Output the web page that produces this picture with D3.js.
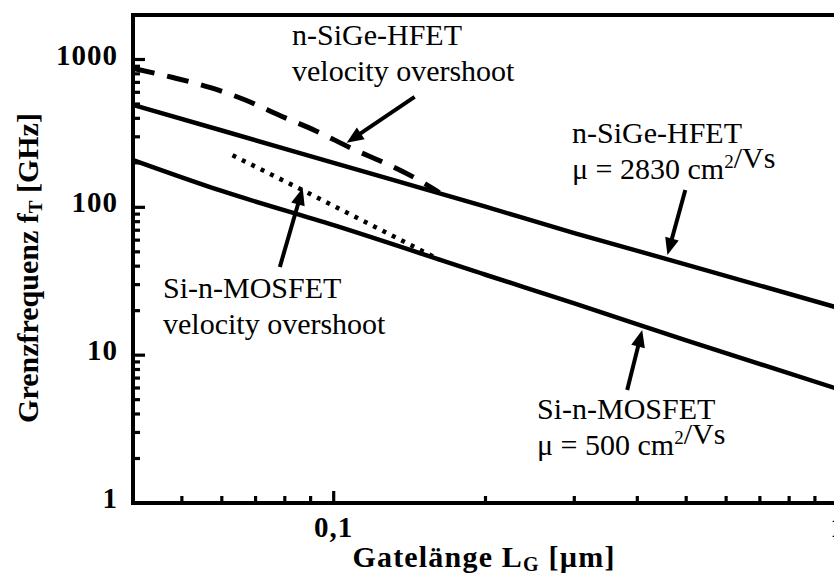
<!DOCTYPE html>
<html>
<head>
<meta charset="utf-8">
<script src="https://cdn.jsdelivr.net/npm/d3@7/dist/d3.min.js"></script>
<style>
  html, body { margin: 0; padding: 0; background: #fff; }
  svg { display: block; }
  text { font-family: "Liberation Serif", "Times New Roman", serif; fill: #000; }
</style>
</head>
<body>
<svg id="chart" width="834" height="575"></svg>
<script>
// Gate length L_G in µm, transit frequency f_T in GHz
const hfetL = [0.04, 0.06, 0.1, 0.2, 0.3, 0.5, 1];
const hfetF = [493, 331, 200, 101, 67, 41, 20.9];

const mosL = [0.04, 0.06, 0.1, 0.2, 0.3, 0.5, 1];
const mosF = [209, 129, 75.7, 35, 22.4, 12.6, 5.9];

const hfetOvL = [0.04, 0.048, 0.057, 0.067, 0.079, 0.092, 0.11, 0.127, 0.148, 0.162];
const hfetOvF = [870, 755, 645, 530, 412, 330, 245, 198, 152, 126];

const mosOvL = [0.063, 0.087, 0.162];
const mosOvF = [225, 130, 44.2];

const xTickLabels = [[0.1, "0,1"], [1, "1"]];
const yTickLabels = [[1, "1"], [10, "10"], [100, "100"], [1000, "1000"]];

// annotation arrows: [tailL, tailF, tipL, tipF]
const arrows = [
  [0.1447, 558, 0.1061, 273],
  [0.0782, 39.5, 0.0868, 135],
  [0.498, 131, 0.459, 47.6],
  [0.382, 5.81, 0.409, 14.8]
];

const svg = d3.select("#chart");
const mLeft = 133, mRight = 838, mTop = 15, mBottom = 503;

const x = d3.scaleLog().domain([0.04, 1]).range([mLeft, mRight]);
const y = d3.scaleLog().domain([1, 2000]).range([mBottom, mTop]);

const isMajor = v => Math.abs(Math.log10(v) - Math.round(Math.log10(v))) < 1e-9;

// frame
svg.append("rect")
  .attr("x", mLeft).attr("y", mTop)
  .attr("width", mRight - mLeft).attr("height", mBottom - mTop)
  .attr("fill", "none").attr("stroke", "#000").attr("stroke-width", 4);

// x ticks (inward)
const xt = x.ticks().filter(v => v > 0.04 && v < 1);
svg.append("g").selectAll("line").data(xt).join("line")
  .attr("x1", d => x(d)).attr("x2", d => x(d))
  .attr("y1", mBottom).attr("y2", d => mBottom - (isMajor(d) ? 12 : 7))
  .attr("stroke", "#000").attr("stroke-width", 3.2);

// y ticks (inward)
const yt = y.ticks().filter(v => v > 1 && v < 2000);
svg.append("g").selectAll("line").data(yt).join("line")
  .attr("y1", d => y(d)).attr("y2", d => y(d))
  .attr("x1", mLeft).attr("x2", d => mLeft + (isMajor(d) ? 12 : 7))
  .attr("stroke", "#000").attr("stroke-width", 3.2);

// tick labels
svg.append("g").selectAll("text").data(yTickLabels).join("text")
  .attr("x", 118).attr("y", d => y(d[0]) + 5)
  .attr("text-anchor", "end")
  .attr("font-size", 29).attr("font-weight", "bold")
  .attr("letter-spacing", 1)
  .text(d => d[1]);

svg.append("g").selectAll("text").data(xTickLabels).join("text")
  .attr("x", d => x(d[0])).attr("y", 537)
  .attr("text-anchor", "middle")
  .attr("font-size", 29).attr("font-weight", "bold")
  .attr("letter-spacing", 1)
  .text(d => d[1]);

// axis titles
const xTitle = svg.append("text")
  .attr("x", 484).attr("y", 567)
  .attr("text-anchor", "middle")
  .attr("font-size", 30).attr("font-weight", "bold")
  .attr("letter-spacing", 1.2);
xTitle.append("tspan").text("Gatelänge L");
xTitle.append("tspan").attr("font-size", 20).attr("dy", 4).text("G");
xTitle.append("tspan").attr("dy", -4).text(" [µm]");

const yTitle = svg.append("text")
  .attr("transform", "translate(38,268) rotate(-90)")
  .attr("text-anchor", "middle")
  .attr("font-size", 30).attr("font-weight", "bold");
yTitle.append("tspan").text("Grenzfrequenz f");
yTitle.append("tspan").attr("font-size", 19).attr("dy", 4).text("T");
yTitle.append("tspan").attr("dy", -4).text(" [GHz]");

// curves
const line = d3.line()
  .x(d => x(d[0])).y(d => y(d[1]))
  .curve(d3.curveMonotoneX);

const plot = svg.append("g");
plot.append("path").datum(d3.zip(hfetL, hfetF))
  .attr("d", line).attr("fill", "none")
  .attr("stroke", "#000").attr("stroke-width", 4.5);
plot.append("path").datum(d3.zip(mosL, mosF))
  .attr("d", line).attr("fill", "none")
  .attr("stroke", "#000").attr("stroke-width", 4.5);
plot.append("path").datum(d3.zip(hfetOvL, hfetOvF))
  .attr("d", line).attr("fill", "none")
  .attr("stroke", "#000").attr("stroke-width", 5)
  .attr("stroke-dasharray", "22 13");
plot.append("path").datum(d3.zip(mosOvL, mosOvF))
  .attr("d", line).attr("fill", "none")
  .attr("stroke", "#000").attr("stroke-width", 4.5)
  .attr("stroke-dasharray", "4 6.5");

// arrows
const ag = svg.append("g");
arrows.forEach(a => {
  const x0 = x(a[0]), y0 = y(a[1]), x1 = x(a[2]), y1 = y(a[3]);
  const dx = x1 - x0, dy = y1 - y0, len = Math.hypot(dx, dy);
  const ux = dx / len, uy = dy / len;
  const headLen = 17, headW = 7;
  const bx = x1 - ux * headLen, by = y1 - uy * headLen;
  ag.append("line")
    .attr("x1", x0).attr("y1", y0).attr("x2", bx + ux * 2).attr("y2", by + uy * 2)
    .attr("stroke", "#000").attr("stroke-width", 4);
  ag.append("path")
    .attr("d", `M${x1},${y1}L${bx - uy * headW},${by + ux * headW}L${bx + uy * headW},${by - ux * headW}Z`)
    .attr("fill", "#000");
});

// curve labels; a part given as {superscript: "..."} is raised
function label(px, py, lines) {
  const t = svg.append("text").attr("font-size", 30);
  lines.forEach((ln, i) => {
    const ts = t.append("tspan").attr("x", px).attr("y", py + i * 36);
    ln.forEach(part => {
      if (typeof part === "object") {
        ts.append("tspan").attr("font-size", 19).attr("dy", -11).text(part.superscript);
        ts.append("tspan").attr("dy", 11).text("");
      } else {
        ts.append("tspan").text(part);
      }
    });
  });
}

label(292, 45, [["n-SiGe-HFET"], ["velocity overshoot"]]);
label(572, 143, [["n-SiGe-HFET"], ["μ = 2830 cm", {superscript: "2"}, "/Vs"]]);
label(163, 298, [["Si-n-MOSFET"], ["velocity overshoot"]]);
label(537, 419, [["Si-n-MOSFET"], ["μ = 500 cm", {superscript: "2"}, "/Vs"]]);
</script>
</body>
</html>
